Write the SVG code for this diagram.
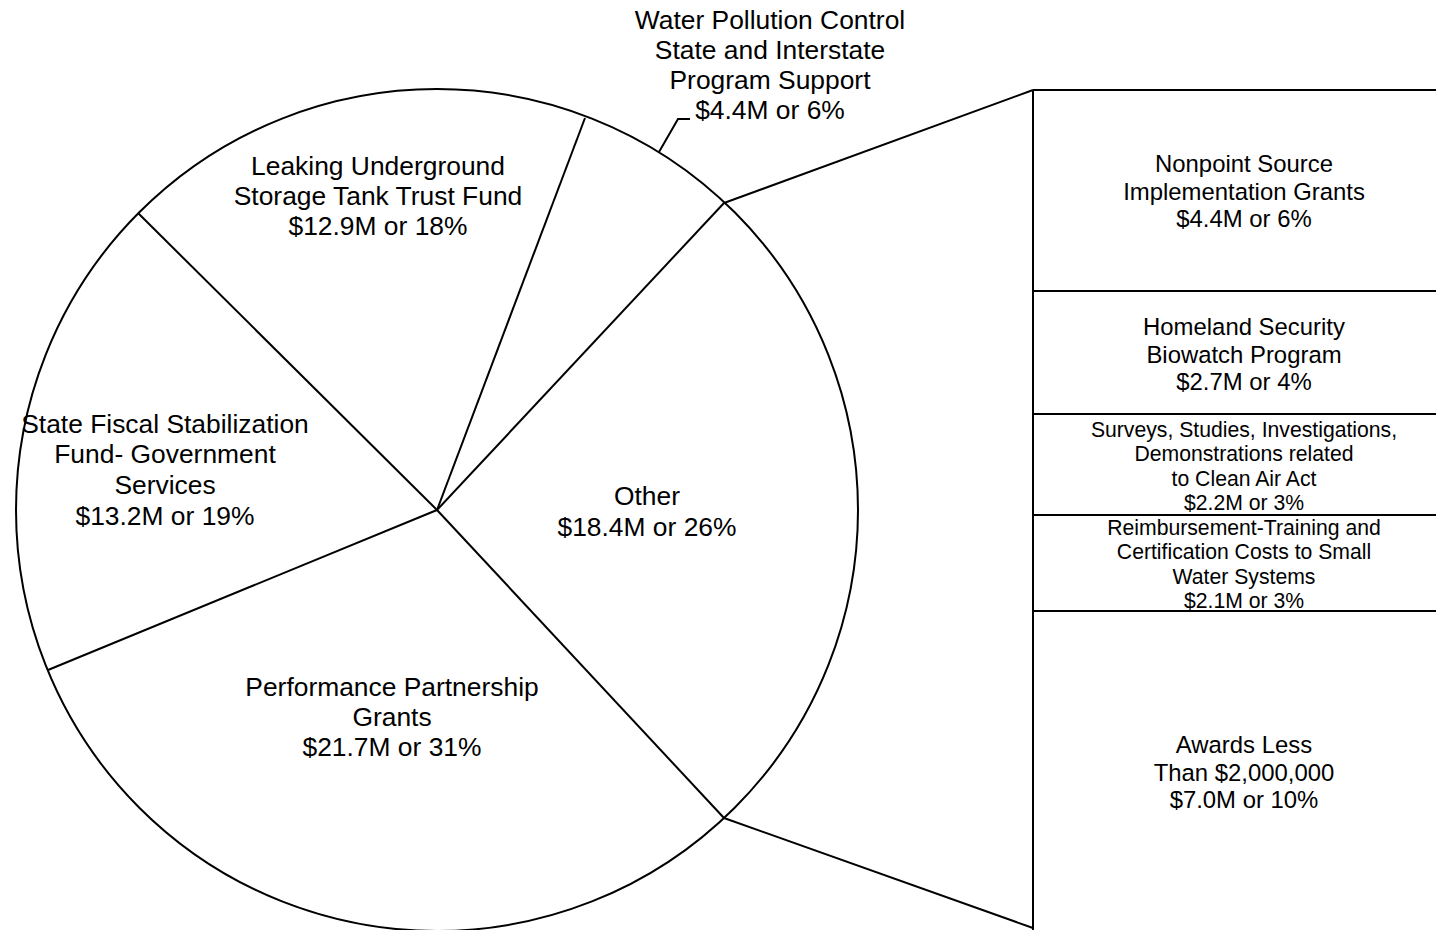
<svg xmlns="http://www.w3.org/2000/svg" width="1436" height="930" viewBox="0 0 1436 930">
<style>
.ln{stroke:#000;stroke-width:2;fill:none;stroke-linecap:butt}
.t{font-family:"Liberation Sans",Arial,sans-serif;fill:#000;text-anchor:middle}
.big{font-size:26.4px}
.mid{font-size:23.9px}
.sm{font-size:21.2px}
</style>
<rect width="1436" height="930" fill="#fff"/>
<g id="pie">
<circle class="ln" cx="437" cy="510" r="421"/>
<line class="ln" x1="437" y1="510" x2="585" y2="118"/>
<line class="ln" x1="437" y1="510" x2="724" y2="203"/>
<line class="ln" x1="437" y1="510" x2="138" y2="213"/>
<line class="ln" x1="437" y1="510" x2="48" y2="670"/>
<line class="ln" x1="437" y1="510" x2="724" y2="818"/>
</g>
<g id="breakout-box">
<line class="ln" x1="1033" y1="90" x2="1033" y2="930"/>
<line class="ln" x1="1033" y1="90" x2="1436" y2="90"/>
<line class="ln" x1="1033" y1="291" x2="1436" y2="291"/>
<line class="ln" x1="1033" y1="414" x2="1436" y2="414"/>
<line class="ln" x1="1033" y1="515" x2="1436" y2="515"/>
<line class="ln" x1="1033" y1="611" x2="1436" y2="611"/>
</g>
<g id="connectors">
<polyline class="ln" points="659,152 678,119 690,119"/>
<line class="ln" x1="724" y1="203" x2="1033" y2="90"/>
<line class="ln" x1="724" y1="818" x2="1033" y2="928"/>
</g>
<g id="water-pollution">
<text class="t big" x="770" y="29">Water Pollution Control</text>
<text class="t big" x="770" y="59">State and Interstate</text>
<text class="t big" x="770" y="89">Program Support</text>
<text class="t big" x="770" y="119">$4.4M or 6%</text>
</g>
<g id="leaking">
<text class="t big" x="378" y="175">Leaking Underground</text>
<text class="t big" x="378" y="205">Storage Tank Trust Fund</text>
<text class="t big" x="378" y="235">$12.9M or 18%</text>
</g>
<g id="state-fiscal">
<text class="t big" x="165" y="433">State Fiscal Stabilization</text>
<text class="t big" x="165" y="463">Fund- Government</text>
<text class="t big" x="165" y="494">Services</text>
<text class="t big" x="165" y="525">$13.2M or 19%</text>
</g>
<g id="other">
<text class="t big" x="647" y="505">Other</text>
<text class="t big" x="647" y="536">$18.4M or 26%</text>
</g>
<g id="performance">
<text class="t big" x="392" y="696">Performance Partnership</text>
<text class="t big" x="392" y="726">Grants</text>
<text class="t big" x="392" y="756">$21.7M or 31%</text>
</g>
<g id="nonpoint">
<text class="t mid" x="1244" y="172">Nonpoint Source</text>
<text class="t mid" x="1244" y="200">Implementation Grants</text>
<text class="t mid" x="1244" y="227">$4.4M or 6%</text>
</g>
<g id="homeland">
<text class="t mid" x="1244" y="335">Homeland Security</text>
<text class="t mid" x="1244" y="363">Biowatch Program</text>
<text class="t mid" x="1244" y="390">$2.7M or 4%</text>
</g>
<g id="surveys">
<text class="t sm" x="1244" y="437">Surveys, Studies, Investigations,</text>
<text class="t sm" x="1244" y="461">Demonstrations related</text>
<text class="t sm" x="1244" y="486">to Clean Air Act</text>
<text class="t sm" x="1244" y="510">$2.2M or 3%</text>
</g>
<g id="reimbursement">
<text class="t sm" x="1244" y="535">Reimbursement-Training and</text>
<text class="t sm" x="1244" y="559">Certification Costs to Small</text>
<text class="t sm" x="1244" y="584">Water Systems</text>
<text class="t sm" x="1244" y="608">$2.1M or 3%</text>
</g>
<g id="awards">
<text class="t mid" x="1244" y="753">Awards Less</text>
<text class="t mid" x="1244" y="781">Than $2,000,000</text>
<text class="t mid" x="1244" y="808">$7.0M or 10%</text>
</g>
</svg>
